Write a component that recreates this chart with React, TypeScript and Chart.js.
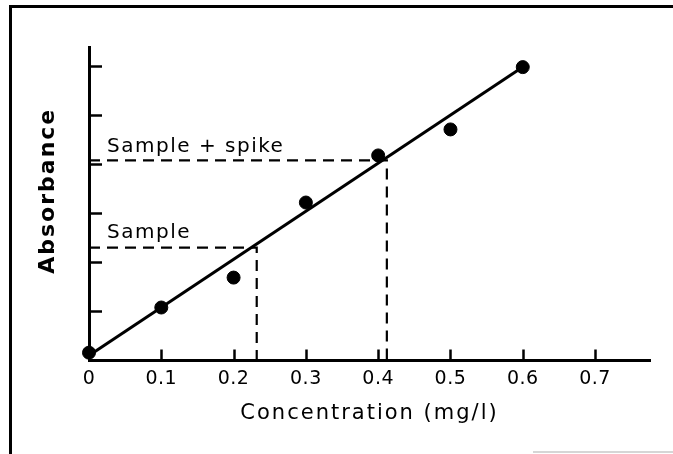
import React, { useEffect, useRef } from "react";
import { Chart, registerables } from "chart.js";

Chart.register(...registerables);

// Calibration points (concentration mg/l, absorbance in tick units)
const CONC = [0, 0.1, 0.2, 0.3, 0.4, 0.5, 0.6];
const ABSORB = [0.16, 1.08, 1.69, 3.22, 4.18, 4.71, 5.98];

// Fitted calibration line
const FIT_X = [0, 0.6];
const FIT_Y = [0.1, 5.98];

// Dashed read-off lines
const SAMPLE_X = [0, 0.232, 0.232];
const SAMPLE_Y = [2.3, 2.3, 0];
const SPIKE_X = [0, 0.412, 0.412];
const SPIKE_Y = [4.08, 4.08, 0];

// Axis ticks
const X_TICKS = [0, 0.1, 0.2, 0.3, 0.4, 0.5, 0.6, 0.7];
const Y_TICKS = [1, 2, 3, 4, 5, 6];
const X_MAX = 0.776;
const Y_MAX = 6.39;

// Axis titles
const X_TITLE = "Concentration (mg/l)";
const Y_TITLE = "Absorbance";

// Annotation labels
const NOTE_TEXT = ["Sample + spike", "Sample"];
const NOTE_X = [0.025, 0.025];
const NOTE_Y = [4.245, 2.49];

const FONT = "'DejaVu Sans', 'Noto Sans', sans-serif";

const pts = (xs: number[], ys: number[]) => xs.map((x, i) => ({ x, y: ys[i] }));

const decorPlugin = {
  id: "decor",
  beforeDraw(chart: any) {
    // spacing for the axis title (drawn before datasets)
    (chart.ctx as any).letterSpacing = "2px";
  },
  afterDatasetsDraw(chart: any) {
    // tighter spacing for tick labels (drawn after datasets, z = 1)
    (chart.ctx as any).letterSpacing = "0.5px";
  },
  afterDraw(chart: any) {
    const ctx = chart.ctx as CanvasRenderingContext2D;
    const xs = chart.scales.x;
    const ys = chart.scales.y;
    const area = chart.chartArea;
    ctx.save();
    ctx.strokeStyle = "#000";
    ctx.lineCap = "butt";
    // inward tick marks
    ctx.lineWidth = 2.5;
    Y_TICKS.forEach((v) => {
      const py = Math.round(ys.getPixelForValue(v)) + 0.5;
      ctx.beginPath();
      ctx.moveTo(area.left, py);
      ctx.lineTo(area.left + 13, py);
      ctx.stroke();
    });
    X_TICKS.forEach((v) => {
      if (v === 0) return;
      const px = Math.round(xs.getPixelForValue(v)) + 0.5;
      ctx.beginPath();
      ctx.moveTo(px, area.bottom);
      ctx.lineTo(px, area.bottom - 11);
      ctx.stroke();
    });
    // annotation text
    (ctx as any).letterSpacing = "1.5px";
    ctx.fillStyle = "#000";
    ctx.font = `20px ${FONT}`;
    ctx.textAlign = "left";
    ctx.textBaseline = "alphabetic";
    NOTE_TEXT.forEach((t, i) => {
      ctx.fillText(t, xs.getPixelForValue(NOTE_X[i]), ys.getPixelForValue(NOTE_Y[i]));
    });
    // y-axis title (rotated), placed a little above the axis centre as in the original
    ctx.save();
    (ctx as any).letterSpacing = "2px";
    ctx.font = `bold 22px ${FONT}`;
    ctx.translate(area.left - 41, (area.top + area.bottom) / 2 - 13);
    ctx.rotate(-Math.PI / 2);
    ctx.textAlign = "center";
    ctx.textBaseline = "middle";
    ctx.fillText(Y_TITLE, 0, 0);
    ctx.restore();
    // page frame
    ctx.lineWidth = 3;
    ctx.beginPath();
    ctx.moveTo(10.5, 454);
    ctx.lineTo(10.5, 6.5);
    ctx.lineTo(673, 6.5);
    ctx.stroke();
    ctx.strokeStyle = "#c8c8c8";
    ctx.lineWidth = 1.5;
    ctx.beginPath();
    ctx.moveTo(533, 452);
    ctx.lineTo(673, 452);
    ctx.stroke();
    ctx.restore();
  },
};

export default function App() {
  const ref = useRef<HTMLCanvasElement | null>(null);

  useEffect(() => {
    if (!ref.current) return;
    const chart = new Chart(ref.current, {
      type: "scatter",
      data: {
        datasets: [
          {
            type: "line",
            label: "Fit",
            data: pts(FIT_X, FIT_Y),
            borderColor: "#000",
            borderWidth: 3,
            pointRadius: 0,
            fill: false,
            clip: false as any,
            order: 2,
          },
          {
            type: "line",
            label: "Sample",
            data: pts(SAMPLE_X, SAMPLE_Y),
            borderColor: "#000",
            borderWidth: 2.2,
            borderDash: [11, 7],
            pointRadius: 0,
            fill: false,
            clip: false as any,
            order: 3,
          },
          {
            type: "line",
            label: "Sample + spike",
            data: pts(SPIKE_X, SPIKE_Y),
            borderColor: "#000",
            borderWidth: 2.2,
            borderDash: [11, 7],
            pointRadius: 0,
            fill: false,
            clip: false as any,
            order: 3,
          },
          {
            type: "scatter",
            label: "Standards",
            data: pts(CONC, ABSORB),
            backgroundColor: "#000",
            borderColor: "#000",
            pointRadius: 6.5,
            clip: false as any,
            order: 1,
          },
        ],
      },
      options: {
        animation: false,
        responsive: false,
        maintainAspectRatio: false,
        layout: { padding: { left: 89, right: 23, top: 47, bottom: 27.5 } },
        plugins: {
          legend: { display: false },
          tooltip: { enabled: false },
        },
        scales: {
          x: {
            type: "linear",
            min: 0,
            max: X_MAX,
            afterBuildTicks: (s: any) => {
              s.ticks = X_TICKS.map((value) => ({ value }));
            },
            grid: { display: false, drawTicks: false },
            border: { display: true, color: "#000", width: 3 },
            ticks: {
              z: 1,
              padding: 7,
              color: "#000",
              font: { family: FONT, size: 19 },
              maxRotation: 0,
              autoSkip: false,
              callback: (v: any) => (Number(v) === 0 ? "0" : Number(v).toFixed(1)),
            },
            title: {
              display: true,
              text: X_TITLE,
              color: "#000",
              font: { family: FONT, size: 21 },
              padding: { top: 4, bottom: 0 },
            },
          },
          y: {
            type: "linear",
            min: 0,
            max: Y_MAX,
            afterBuildTicks: (s: any) => {
              s.ticks = Y_TICKS.map((value) => ({ value }));
            },
            grid: { display: false, drawTicks: false },
            border: { display: true, color: "#000", width: 3 },
            ticks: { display: false },
            title: { display: false },
          },
        },
      },
      plugins: [decorPlugin],
    });
    return () => chart.destroy();
  }, []);

  return (
    <div
      style={{
        position: "fixed",
        left: 0,
        top: 0,
        width: 673,
        height: 454,
        background: "#fff",
      }}
    >
      <canvas ref={ref} width={673} height={454} style={{ width: 673, height: 454 }} />
    </div>
  );
}
